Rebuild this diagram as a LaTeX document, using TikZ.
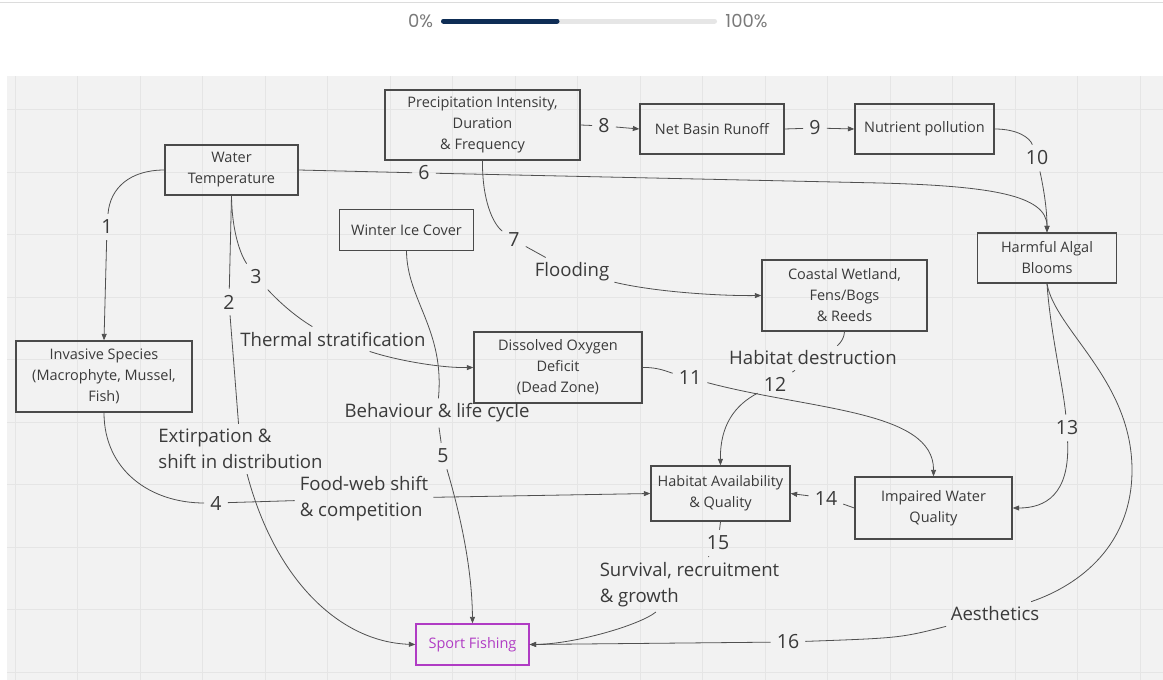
\documentclass[tikz,border=0pt]{standalone}
\usepackage{fontspec}
\setmainfont{Open Sans}
\newfontfamily\barfont{Poppins}
\usetikzlibrary{arrows.meta}

\definecolor{canvas}{HTML}{F2F2F2}
\definecolor{gridln}{HTML}{E5E5E5}
\definecolor{boxline}{HTML}{4A4A4A}
\definecolor{txt}{HTML}{3A3A3A}
\definecolor{edge}{HTML}{505050}
\definecolor{sport}{HTML}{B03CC4}
\definecolor{barDark}{HTML}{0E2D55}
\definecolor{barLight}{HTML}{E6E6E6}
\definecolor{barText}{HTML}{7A7A7A}
\definecolor{topline}{HTML}{DCDCDC}

\tikzset{
  box/.style={draw=boxline, line width=1.3pt, text=txt, align=center,
    inner sep=0pt, font=\fontsize{14.5}{21}\selectfont},
  lbl/.style={text=txt, inner sep=5pt, font=\fontsize{18.6}{26}\selectfont},
  num/.style={text=txt, inner sep=6pt, font=\fontsize{19.5}{24}\selectfont},
  link/.style={draw=edge, line width=0.8pt},
  arr/.style={link, -{Triangle[length=6.5pt,width=5pt]}},
  bartext/.style={text=barText, inner sep=0pt, font=\barfont\fontsize{18}{22}\selectfont},
}

\begin{document}
\begin{tikzpicture}[x=1pt, y=-1pt]
\useasboundingbox (0,0) rectangle (1163,680);
\fill[white] (0,0) rectangle (1163,680);
\draw[topline, line width=1pt] (0,2) -- (1163,2);

% progress indicator
\node[bartext] (pct0) at (420.5,21) {0\%};
\node[bartext] (pct100) at (746.5,21) {100\%};
\draw[barLight, line width=5pt, line cap=round] (443.5,21) -- (714.5,21);
\draw[barDark, line width=5pt, line cap=round] (443.5,21) -- (557,21);

% board with grid
\fill[canvas] (7,76) rectangle (1163,680);
\foreach \gx in {15,77.5,...,1141} \draw[gridln, line width=0.8pt] (\gx,76) -- (\gx,680);
\foreach \gy in {109.5,172,...,673} \draw[gridln, line width=0.8pt] (7,\gy) -- (1163,\gy);

% boxes
\node[box, minimum width=195pt, minimum height=70pt] (precip) at (482.5,125) {Precipitation Intensity,\\Duration\\\& Frequency};
\node[box, minimum width=144pt, minimum height=50pt] (runoff) at (712,129) {Net Basin Runoff};
\node[box, minimum width=139pt, minimum height=50pt] (nutr) at (924.5,129) {Nutrient pollution};
\node[box, minimum width=133pt, minimum height=50pt] (wtemp) at (231.5,170) {Water\\Temperature};
\node[box, minimum width=134pt, minimum height=41pt] (ice) at (406.5,230) {Winter Ice Cover};
\node[box, minimum width=139pt, minimum height=50pt] (algae) at (1047,258) {Harmful Algal\\Blooms};
\node[box, minimum width=165pt, minimum height=71pt] (coast) at (844.5,295.5) {Coastal Wetland,\\Fens/Bogs\\\& Reeds};
\node[box, minimum width=176pt, minimum height=71pt] (invasive) at (104,376.5) {Invasive Species\\(Macrophyte, Mussel,\\Fish)};
\node[box, minimum width=168pt, minimum height=71pt] (oxygen) at (558,367.5) {Dissolved Oxygen\\Deficit\\(Dead Zone)};
\node[box, minimum width=139pt, minimum height=55pt] (habitat) at (720.5,493.5) {Habitat Availability\\\& Quality};
\node[box, minimum width=157pt, minimum height=62pt] (water) at (933.5,508) {Impaired Water\\Quality};
\node[box, draw=sport, text=sport, minimum width=113pt, minimum height=41pt] (fishing) at (472.5,644.5) {Sport Fishing};

% link numbers and labels
\node[num] (n1) at (107,227) {1};
\node[num] (n2) at (229,302) {2};
\node[num] (n3) at (256,277) {3};
\node[lbl] (therm) at (333,339) {Thermal stratification};
\node[lbl, align=left] (extirp) at (240.5,449) {Extirpation \&\\shift in distribution};
\node[num] (n4) at (216,503) {4};
\node[lbl, align=left] (foodweb) at (364,498.5) {Food-web shift\\\& competition};
\node[lbl] (behav) at (437,413) {Behaviour \& life cycle};
\node[num] (n5) at (443,456) {5};
\node[num] (n6) at (424,173) {6};
\node[num] (n7) at (514,240) {7};
\node[lbl] (flood) at (572,272) {Flooding};
\node[num] (n8) at (604,126) {8};
\node[num] (n9) at (815,128) {9};
\node[num] (n10) at (1037,158) {10};
\node[num] (n11) at (690,378) {11};
\node[lbl] (hdestr) at (813,358) {Habitat destruction};
\node[num] (n12) at (775,384) {12};
\node[num] (n13) at (1067,428) {13};
\node[num] (n14) at (826,498) {14};
\node[num] (n15) at (718,543) {15};
\node[lbl, align=left] (surv) at (689.5,584.5) {Survival, recruitment\\\& growth};
\node[lbl] (aesth) at (995,614) {Aesthetics};
\node[num] (n16) at (788,642) {16};

% connectors
\draw[arr] (wtemp.west) .. controls (130,170) and (110,188) .. (n1) -- (invasive.north);
\draw[arr] (wtemp.south) -- (n2) -- (extirp) .. controls (275,580) and (340,642) .. (fishing.west);
\draw[arr] (wtemp.south) .. controls (232,235) and (242,257) .. (n3)
  .. controls (282,305) and (298,318) .. (therm)
  .. controls (395,360) and (440,368) .. (oxygen.west);
\draw[arr] (invasive.south) .. controls (104,470) and (150,503) .. (n4) -- (foodweb) -- (habitat.west);
\draw[arr] (ice.south) .. controls (407,300) and (445,330) .. (behav) -- (n5)
  .. controls (456,500) and (472,560) .. (fishing.north);
\draw[arr] (wtemp.east) -- (n6) -- (880,183) .. controls (990,186) and (1047,195) .. (algae.north);
\draw[arr] (precip.south) .. controls (482,200) and (493,224) .. (n7) -- (flood)
  .. controls (655,292) and (720,296) .. (coast.west);
\draw[arr] (precip.east) -- (n8) -- (runoff.west);
\draw[arr] (runoff.east) -- (n9) -- (nutr.west);
\draw[arr] (nutr.east) .. controls (1018,129) and (1030,138) .. (n10)
  .. controls (1044,190) and (1047,210) .. (algae.north);
\draw[arr] (oxygen.east) .. controls (658,367) and (668,372) .. (n11)
  .. controls (810,410) and (934,410) .. (water.north);
\draw[arr] (coast.south) .. controls (844,342) and (835,347) .. (hdestr) -- (n12)
  .. controls (735,405) and (720,425) .. (habitat.north);
\draw[arr] (algae.south) .. controls (1050,330) and (1063,385) .. (n13)
  .. controls (1070,495) and (1045,508) .. (water.east);
\draw[arr] (water.west) -- (n14) -- (habitat.east);
\draw[arr] (habitat.south) -- (n15) -- (surv) .. controls (640,625) and (575,644) .. (fishing.east);
\draw[arr] (algae.south) .. controls (1055,330) and (1132,380) .. (1132,470)
  .. controls (1132,545) and (1080,585) .. (aesth)
  .. controls (900,638) .. (n16) -- (fishing.east);
\end{tikzpicture}
\end{document}
